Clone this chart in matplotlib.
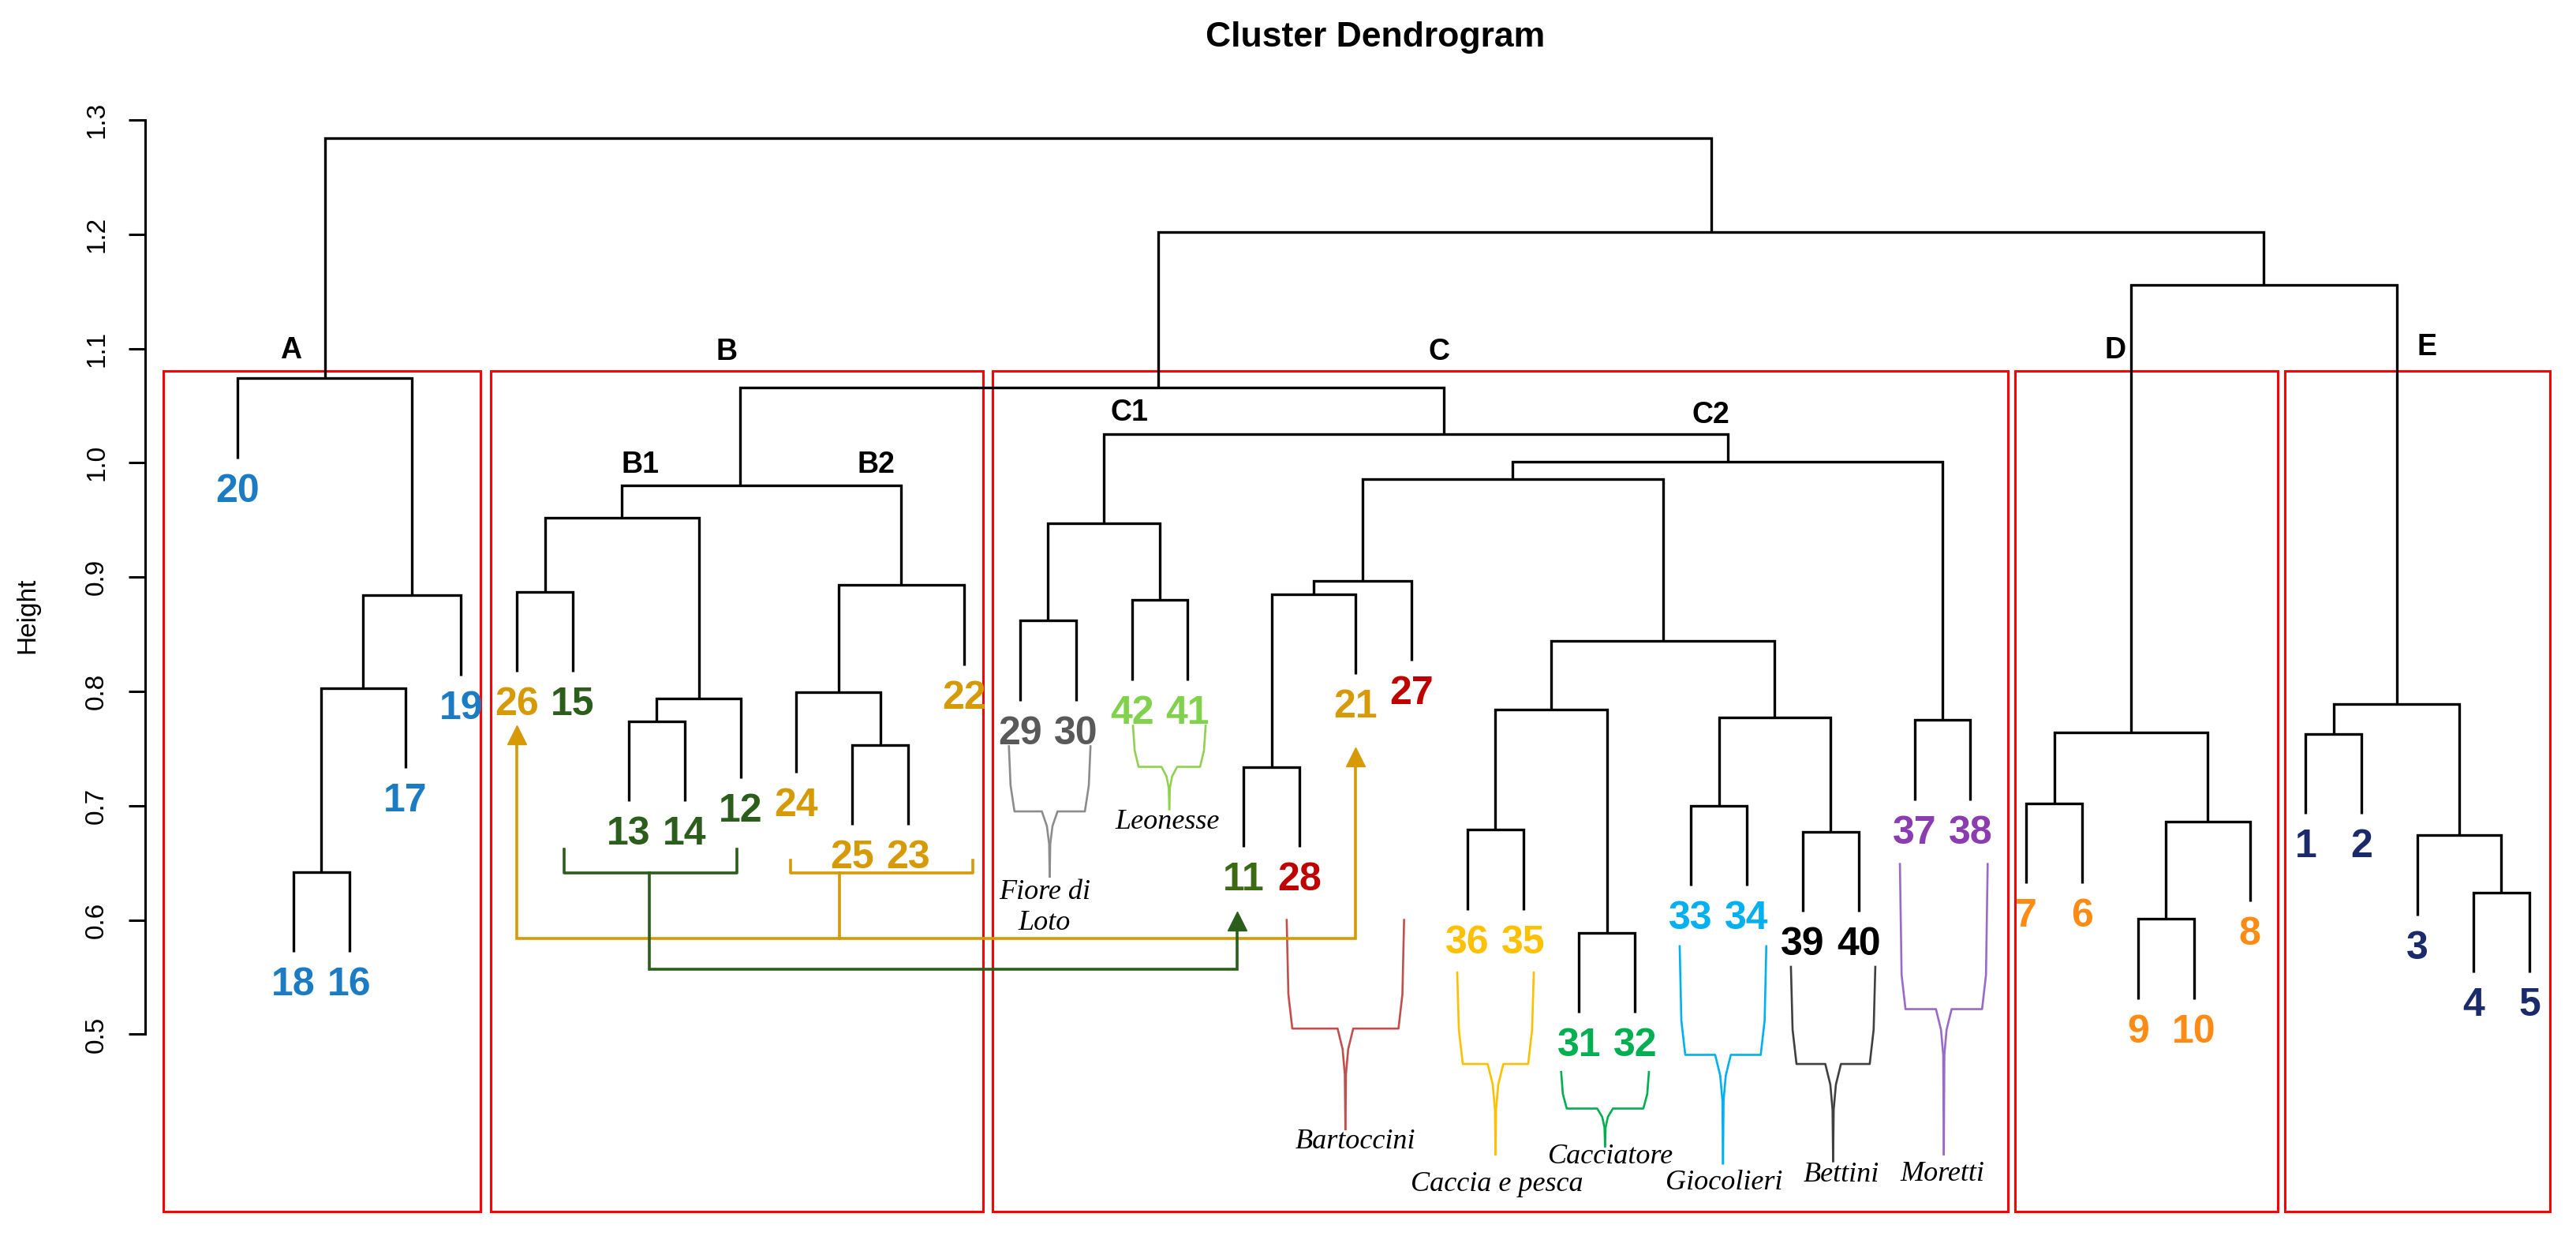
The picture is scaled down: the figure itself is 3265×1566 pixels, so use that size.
import matplotlib
matplotlib.use("Agg")
import matplotlib.pyplot as plt

W, H, DPI = 3265, 1566, 100

# ---------------- data ----------------
leaf_order = ['20', '18', '16', '17', '19',
              '26', '15', '13', '14', '12', '24', '25', '23', '22',
              '29', '30', '42', '41', '11', '28', '21', '27', '36', '35', '31', '32',
              '33', '34', '39', '40', '37', '38',
              '7', '6', '9', '10', '8',
              '1', '2', '3', '4', '5']

BLUE, GOLD, DKGREEN, GRAY = '#1b7cc3', '#d69a06', '#2b5d1b', '#595959'
LTGREEN, OLIVE, RED, YELLOW = '#80d24c', '#3b6a12', '#c00000', '#ffc000'
GREEN, CYAN, BLACK, PURPLE = '#00b050', '#00b0f0', '#000000', '#8a3cb0'
ORANGE, NAVY = '#ff8a14', '#1b2a6b'

leaf_colors = [BLUE] * 5 + \
    [GOLD, DKGREEN, DKGREEN, DKGREEN, DKGREEN, GOLD, GOLD, GOLD, GOLD] + \
    [GRAY, GRAY, LTGREEN, LTGREEN, OLIVE, RED, GOLD, RED, YELLOW, YELLOW,
     GREEN, GREEN, CYAN, CYAN, BLACK, BLACK, PURPLE, PURPLE] + \
    [ORANGE] * 5 + [NAVY] * 5

# merges (children listed before parents)
node_names = ['a1', 'a2', 'a3', 'A',
              'b1', 'b2', 'b3', 'B1', 'b4', 'b5', 'B2', 'B',
              'c1', 'c2', 'C1', 'c3', 'c4', 'c5', 'c6', 'c7', 'c8', 'c9', 'c10',
              'c11', 'c12', 'c13', 'c14', 'C2', 'C', 'BC',
              'd1', 'd2', 'd3', 'D', 'e1', 'e2', 'e3', 'E', 'DE', 'BCDE', 'root']
node_left = ['18', 'a1', 'a2', '20',
             '26', '13', 'b2', 'b1', '25', '24', 'b5', 'B1',
             '29', '42', 'c1', '11', 'c3', 'c4', '36', '31', 'c6', '33', '39',
             'c9', 'c8', 'c5', '37', 'c13', 'C1', 'B',
             '7', '9', 'd2', 'd1', '1', '4', '3', 'e1', 'D', 'BC', 'A']
node_right = ['16', '17', '19', 'a3',
              '15', '14', '12', 'b3', '23', 'b4', '22', 'B2',
              '30', '41', 'c2', '28', '21', '27', '35', '32', 'c7', '34', '40',
              'c10', 'c11', 'c12', '38', 'c14', 'C2', 'C',
              '6', '10', '8', 'd3', '2', '5', 'e2', 'e3', 'E', 'DE', 'BCDE']
node_height = [0.642, 0.803, 0.884, 1.074,
               0.887, 0.774, 0.794, 0.952, 0.753, 0.799, 0.893, 0.980,
               0.862, 0.880, 0.947, 0.734, 0.885, 0.897, 0.679, 0.589, 0.784,
               0.700, 0.677, 0.777, 0.844, 0.986, 0.775, 1.001, 1.025, 1.066,
               0.702, 0.601, 0.686, 0.764, 0.763, 0.624, 0.674, 0.789, 1.156,
               1.202, 1.284]
# x positions of a few edited nodes (leaf units)
node_x_override = {'B': 9.99, 'C': 22.58, 'BC': 17.47}
hang = 0.07

cluster_names = ['A', 'B', 'C', 'D', 'E']
cluster_left = [-0.327, 5.531, 14.507, 32.799, 37.627]
cluster_right = [5.347, 14.338, 32.672, 37.50, 42.37]
cluster_top, cluster_bottom = 1.0804, 0.3449
cluster_label_x = [1.95, 9.75, 22.50, 34.59, 40.17]
cluster_label_y = [1.098, 1.097, 1.097, 1.098, 1.101]
sub_names = ['B1', 'B2', 'C1', 'C2']
sub_x = [8.21, 12.42, 16.96, 27.35]
sub_y = [0.998, 0.998, 1.044, 1.042]

group_names = ['Fiore di\nLoto', 'Leonesse', 'Bartoccini', 'Caccia e pesca',
               'Cacciatore', 'Giocolieri', 'Bettini', 'Moretti']
group_colors = ['#8c8c8c', '#92d050', '#c0504d', '#ffc000', '#00b050',
                '#00b0f0', '#404040', '#9b6ac6']
group_left = [14.80, 17.02, 19.77, 22.82, 24.68, 26.80, 28.79, 30.74]
group_right = [16.26, 18.32, 21.87, 24.19, 26.25, 28.35, 30.30, 32.31]
group_top = [0.752, 0.770, 0.600, 0.554, 0.467, 0.577, 0.559, 0.649]
group_mid = [0.695, 0.734, 0.505, 0.474, 0.435, 0.482, 0.474, 0.522]
group_bottom = [0.638, 0.697, 0.417, 0.395, 0.402, 0.387, 0.389, 0.395]
group_text_x = [15.44, 17.64, 21.0, 23.53, 25.57, 27.59, 29.69, 31.50]
group_text_y = [0.611, 0.686, 0.406, 0.369, 0.393, 0.370, 0.377, 0.378]

# ---------------- figure ----------------
fig = plt.figure(figsize=(W / DPI, H / DPI), dpi=DPI)
x0 = 184 / W
ax = fig.add_axes([x0, 0, 1 - x0, 1])
ax.set_xlim(1 + (184 - 301) / 70.85, 1 + (3265 - 301) / 70.85)
ax.set_ylim(1.3 - (1566 - 152) / 1448, 1.3 + 152 / 1448)

# red boxes
for l, r in zip(cluster_left, cluster_right):
    ax.add_patch(plt.Rectangle((l, cluster_bottom), r - l, cluster_top - cluster_bottom,
                               fill=False, edgecolor='#ff0000', lw=2.2, zorder=1))

# dendrogram
pos = {n: i + 1 for i, n in enumerate(leaf_order)}
hts, leaf_bottom = {}, {}
for name, l, r, h in zip(node_names, node_left, node_right, node_height):
    xl, xr = pos[l], pos[r]
    yl = hts.get(l, h - hang)
    yr = hts.get(r, h - hang)
    for c in (l, r):
        if c not in hts:
            leaf_bottom[c] = h - hang
    ax.plot([xl, xl, xr, xr], [yl, h, h, yr], color='black', lw=2.4,
            solid_joinstyle='miter', solid_capstyle='butt', zorder=3)
    pos[name] = node_x_override.get(name, (xl + xr) / 2)
    hts[name] = h

# leaf labels
for lab, col in zip(leaf_order, leaf_colors):
    ax.text(pos[lab], leaf_bottom[lab] - 0.029, lab, color=col, fontsize=36,
            fontweight='bold', family=['Liberation Sans', 'DejaVu Sans'],
            ha='center', va='center', zorder=4)

# cluster letters
for n, x, y in zip(cluster_names, cluster_label_x, cluster_label_y):
    ax.text(x, y, n, fontsize=27, fontweight='bold', family='Liberation Sans',
            ha='center', va='center')
for n, x, y in zip(sub_names, sub_x, sub_y):
    ax.text(x, y, n, fontsize=27, fontweight='bold', family='Liberation Sans',
            ha='center', va='center')

# group braces
for name, c, l, r, t, m, b, tx, ty in zip(group_names, group_colors, group_left,
                                          group_right, group_top, group_mid,
                                          group_bottom, group_text_x, group_text_y):
    xc = (l + r) / 2
    corner = min(0.03, 0.4 * (t - m))
    junction = min(0.04, 0.5 * (m - b))
    for sgn, e in ((1, l), (-1, r)):
        ax.plot([e, e + sgn * 0.03, e + sgn * 0.1, xc - sgn * 0.14,
                 xc - sgn * 0.05, xc - sgn * 0.01, xc],
                [t, m + corner, m, m, m - junction * 0.45, m - junction, b],
                color=c, lw=1.9, zorder=2, solid_joinstyle='round')
    ax.text(tx, ty, name, fontsize=26, style='italic', family='Liberation Serif',
            ha='center', va='center', linespacing=1.25)

# gold and green arrows
AGOLD, AGREEN = '#d69a06', '#2b5d1b'
ax.plot([10.89, 10.89, 14.15, 14.15], [0.652, 0.641, 0.641, 0.652], color=AGOLD, lw=2.6)
ax.plot([11.77, 11.77], [0.641, 0.584], color=AGOLD, lw=2.6)
ax.plot([6, 6, 21, 21], [0.760, 0.584, 0.584, 0.740], color=AGOLD, lw=2.6,
        solid_joinstyle='miter')
ax.plot([6, 21], [0.762, 0.743], ls='none', marker='^', ms=17, color=AGOLD)
ax.plot([6.84, 6.84, 9.93, 9.93], [0.662, 0.641, 0.641, 0.662], color=AGREEN, lw=2.6)
ax.plot([8.37, 8.37, 18.88, 18.88], [0.641, 0.557, 0.557, 0.596], color=AGREEN, lw=2.6,
        solid_joinstyle='miter')
ax.plot([18.88], [0.599], ls='none', marker='^', ms=17, color=AGREEN)

# axis
for s in ['top', 'right', 'bottom']:
    ax.spines[s].set_visible(False)
ax.spines['left'].set_bounds(0.5, 1.3)
ax.spines['left'].set_linewidth(2.2)
ax.set_xticks([])
ax.set_yticks([0.5, 0.6, 0.7, 0.8, 0.9, 1.0, 1.1, 1.2, 1.3])
ax.set_yticklabels(['0.5', '0.6', '0.7', '0.8', '0.9', '1.0', '1.1', '1.2', '1.3'],
                   rotation=90, va='center', fontsize=24, family='Liberation Sans')
ax.tick_params(axis='y', length=15, width=2.2, pad=18)

fig.text(35 / W, 1 - 780 / H, 'Height', rotation=90, fontsize=24,
         family='Liberation Sans', ha='center', va='center')
fig.text(1743 / W, 1 - 48 / H, 'Cluster Dendrogram', fontsize=32, fontweight='bold',
         family='Liberation Sans', ha='center', va='center')

fig.savefig('out.png', dpi=DPI)
